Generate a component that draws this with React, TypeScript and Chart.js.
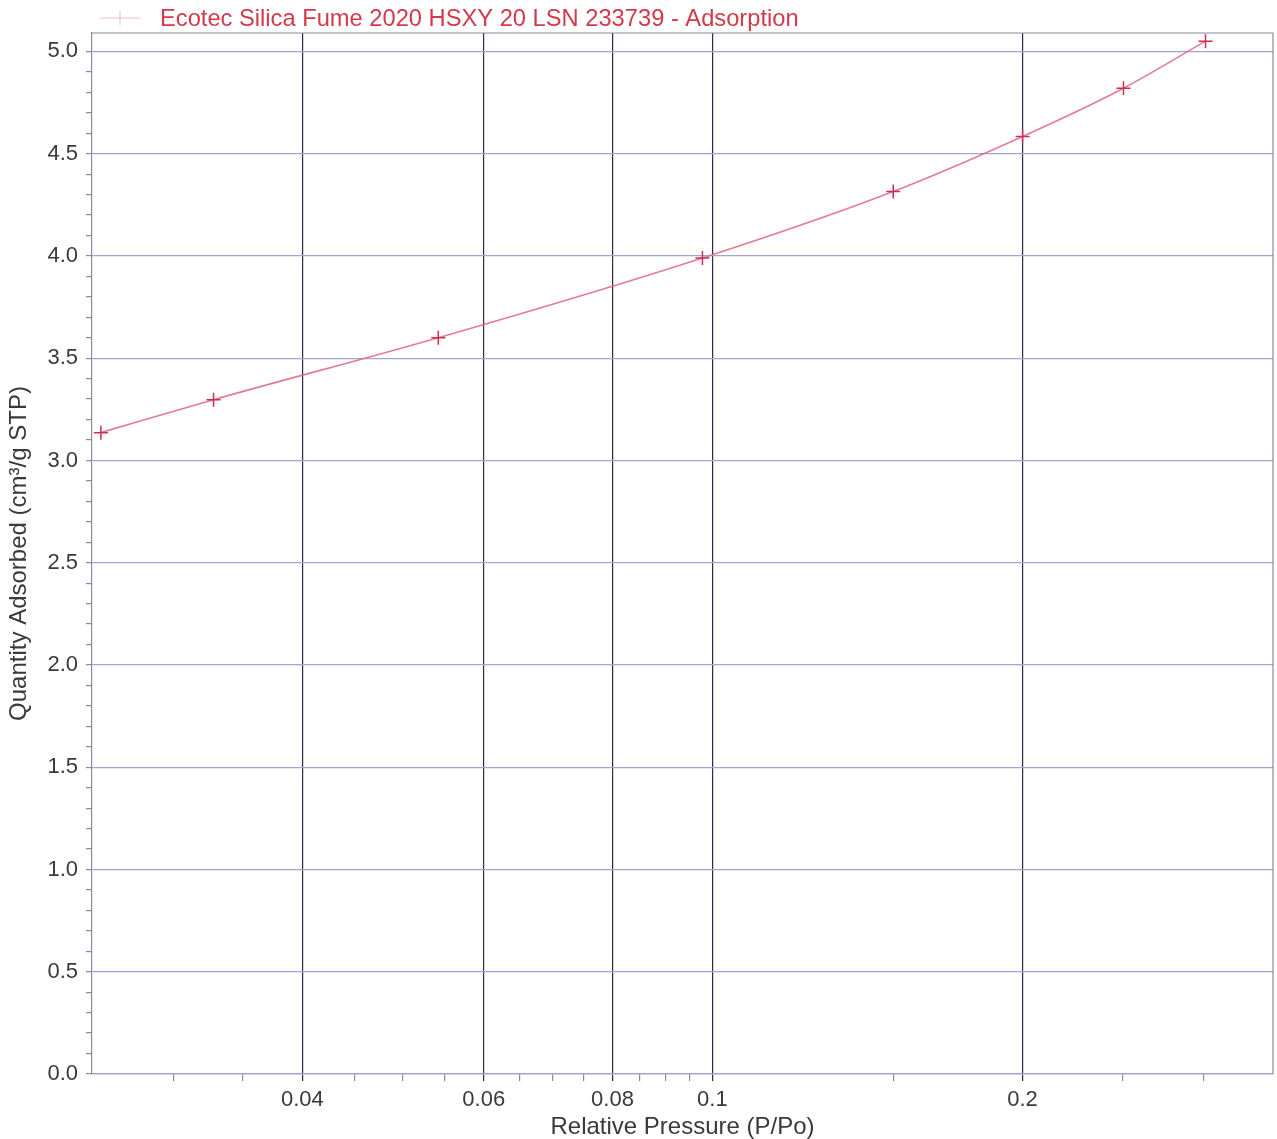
import React, { useEffect, useRef } from "react";
import { Chart, registerables } from "chart.js";

Chart.register(...registerables);

const SERIES_LABEL = "Ecotec Silica Fume 2020 HSXY 20 LSN 233739 - Adsorption";
const PRESSURE = [0.0255, 0.0328, 0.0542, 0.0978, 0.1498, 0.2, 0.2506, 0.301];
const QUANTITY = [3.136, 3.297, 3.6, 3.99, 4.315, 4.584, 4.82, 5.05];

const X_TICKS = [
  0.03, 0.035, 0.04, 0.045, 0.05, 0.055, 0.06, 0.065, 0.07, 0.075, 0.08, 0.085, 0.09, 0.095, 0.1,
  0.15, 0.2, 0.25, 0.3,
];
const X_LABELED = [0.04, 0.06, 0.08, 0.1, 0.2];
const Y_LABELED = [0, 0.5, 1.0, 1.5, 2.0, 2.5, 3.0, 3.5, 4.0, 4.5, 5.0];
const Y_MINOR_STEP = 0.1;

const FONT = "'Liberation Sans', Arial, sans-serif";
const TEXT = "#3a3a3a";

const isYMajor = (v: number) => Y_LABELED.some((m) => Math.abs(m - v) < 1e-6);
const isXMajor = (v: number) => X_LABELED.some((m) => Math.abs(m - v) < 1e-9);

const frameAndLegend = {
  id: "frameAndLegend",
  afterDraw(chart: any) {
    const { ctx, chartArea } = chart;
    ctx.save();
    ctx.strokeStyle = "#8a8aa0";
    ctx.lineWidth = 1.2;
    ctx.beginPath();
    ctx.moveTo(chartArea.left, chartArea.top);
    ctx.lineTo(chartArea.right, chartArea.top);
    ctx.lineTo(chartArea.right, chartArea.bottom);
    ctx.stroke();

    // legend
    const y = 18;
    ctx.strokeStyle = "rgba(230,150,165,0.6)";
    ctx.lineWidth = 1.2;
    ctx.beginPath();
    ctx.moveTo(100, y);
    ctx.lineTo(140, y);
    ctx.moveTo(120, y - 7);
    ctx.lineTo(120, y + 7);
    ctx.stroke();
    ctx.fillStyle = "#d23a4c";
    ctx.font = `23.7px ${FONT}`;
    ctx.textBaseline = "middle";
    ctx.textAlign = "left";
    ctx.fillText(SERIES_LABEL, 160, y + 1);
    ctx.restore();
  },
};

export default function App() {
  const ref = useRef<HTMLCanvasElement>(null);

  useEffect(() => {
    document.body.style.margin = "0";
    const chart = new Chart(ref.current!, {
      type: "line",
      data: {
        datasets: [
          {
            label: SERIES_LABEL,
            data: PRESSURE.map((x, i) => ({ x, y: QUANTITY[i] })),
            borderColor: "rgba(222,100,130,0.85)",
            borderWidth: 1.6,
            tension: 0.4,
            cubicInterpolationMode: "monotone",
            pointStyle: "cross",
            pointRadius: 7,
            pointBorderWidth: 1.5,
            pointBorderColor: "#cc3050",
            pointBackgroundColor: "#cc3050",
            fill: false,
          },
        ],
      },
      options: {
        animation: false,
        responsive: false,
        devicePixelRatio: 1,
        layout: { autoPadding: false, padding: { top: 33, right: 4, left: 0, bottom: 0 } },
        plugins: { legend: { display: false }, tooltip: { enabled: false } },
        scales: {
          x: {
            type: "logarithmic",
            min: 0.025,
            max: 0.35,
            afterBuildTicks: (s: any) => {
              s.ticks = X_TICKS.map((v) => ({ value: v }));
            },
            afterFit: (s: any) => {
              s.height = 65;
              s.paddingLeft = 0;
              s.paddingRight = 0;
            },
            ticks: {
              autoSkip: false,
              maxRotation: 0,
              padding: 6,
              color: TEXT,
              font: { family: FONT, size: 22 },
              callback: (v: any) => (isXMajor(Number(v)) ? String(v) : ""),
            },
            grid: {
              color: (c: any) => (c.tick && isXMajor(c.tick.value) ? "#2c2c48" : "rgba(0,0,0,0)"),
              tickColor: (c: any) => (c.tick && isXMajor(c.tick.value) ? "#2c2c48" : "#8a8a9a"),
              tickLength: 7,
              lineWidth: 1.2,
            },
            border: { color: "#a0a0cc", width: 1.2 },
            title: {
              display: true,
              text: "Relative Pressure (P/Po)",
              color: TEXT,
              font: { family: FONT, size: 24, lineHeight: 1.0 },
              padding: { top: 0, bottom: 0 },
            },
          },
          y: {
            type: "linear",
            min: 0,
            max: 5.09,
            afterBuildTicks: (s: any) => {
              const t = [];
              for (let i = 0; i <= 50; i++) t.push({ value: Math.round(i * Y_MINOR_STEP * 10) / 10 });
              s.ticks = t;
            },
            afterFit: (s: any) => {
              s.width = 92;
            },
            ticks: {
              autoSkip: false,
              padding: 8,
              color: TEXT,
              font: { family: FONT, size: 22 },
              callback: (v: any) => (isYMajor(Number(v)) ? Number(v).toFixed(1) : ""),
            },
            grid: {
              color: (c: any) => (c.tick && isYMajor(c.tick.value) ? "#a4a4d2" : "rgba(0,0,0,0)"),
              tickColor: "#8a8a9a",
              tickLength: 6,
              lineWidth: 1.2,
            },
            border: { color: "#8a8aa8", width: 1.2 },
            title: {
              display: true,
              text: "Quantity Adsorbed (cm³/g STP)",
              color: TEXT,
              font: { family: FONT, size: 24 },
              padding: { top: 5, bottom: 0 },
            },
          },
        },
      },
      plugins: [frameAndLegend],
    } as any);
    return () => chart.destroy();
  }, []);

  return (
    <div style={{ position: "absolute", left: 0, top: 0, width: 1277, height: 1139, background: "#fff" }}>
      <canvas ref={ref} width={1277} height={1139} />
    </div>
  );
}
